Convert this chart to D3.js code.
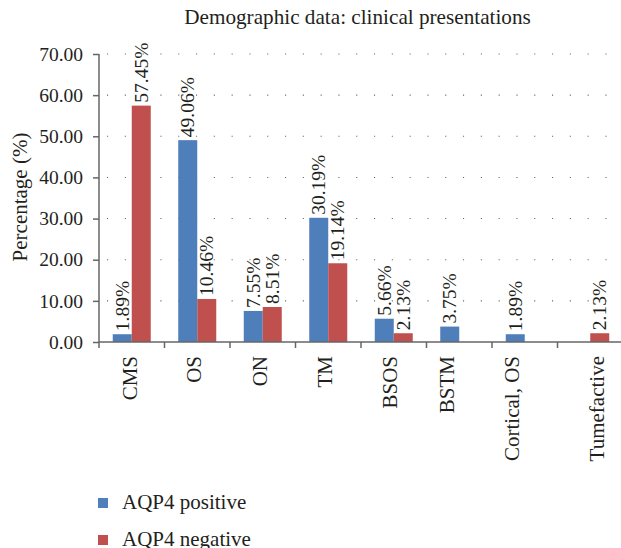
<!DOCTYPE html>
<html>
<head>
<meta charset="utf-8">
<script src="https://cdn.jsdelivr.net/npm/d3@7"></script>
<style>
  body { margin: 0; background: #fff; }
  svg text { font-family: "Liberation Serif", "Times New Roman", serif; fill: #231f20; }
</style>
</head>
<body>
<div id="chart"></div>
<script>
var categories = ["CMS", "OS", "ON", "TM", "BSOS", "BSTM", "Cortical, OS", "Tumefactive"];
var positive = [1.89, 49.06, 7.55, 30.19, 5.66, 3.75, 1.89, null];
var negative = [57.45, 10.46, 8.51, 19.14, 2.13, null, null, 2.13];
var seriesNames = ["AQP4 positive", "AQP4 negative"];
var yTicks = [0, 10, 20, 30, 40, 50, 60, 70];

function init(){
    var w = 621, h = 548;
    var left = 99, top = 54, bottom = 342;
    var bandW = 65.5;
    var colors = ["#4f7fbb", "#bf504e"];
    // small per-label nudges, the source chart does not center every category label
    var catShift = [-2, -3, -3, -3, -4, -12, -13, 7];

    var svg = d3.select("#chart")
                .append("svg")
                .attr("width", w)
                .attr("height", h);

    var yScale = d3.scaleLinear()
                .domain([0, 70])
                .range([bottom, top]);

    var xScale = d3.scaleBand()
                .domain(categories)
                .range([left, left + bandW * categories.length]);

    var inner = d3.scaleBand()
                .domain([0, 1])
                .range([0, 38]);
    var groupOff = (bandW - 38) / 2;

    //title
    svg.append("text")
        .attr("x", 357.5)
        .attr("y", 24)
        .attr("text-anchor", "middle")
        .attr("font-size", "21.2px")
        .text("Demographic data: clinical presentations");

    //dotted gridlines
    svg.selectAll("line.grid")
        .data(yTicks.slice(1))
        .enter()
        .append("line")
        .attr("class", "grid")
        .attr("x1", left + 8)
        .attr("x2", w)
        .attr("y1", function(d){ return yScale(d); })
        .attr("y2", function(d){ return yScale(d); })
        .attr("stroke", "#666")
        .attr("stroke-width", 1.1)
        .attr("stroke-dasharray", "1.1,16.7");

    //y axis
    var yAxis = d3.axisLeft(yScale)
                .tickValues(yTicks)
                .tickSize(6)
                .tickPadding(10)
                .tickFormat(d3.format(".2f"));
    var gy = svg.append("g")
        .attr("transform", "translate(" + left + ",0)")
        .call(yAxis);
    gy.selectAll("text").attr("font-size", "19.5px").attr("font-family", null).attr("fill", "#231f20");
    gy.selectAll("line, path").attr("stroke", "#666").attr("stroke-width", 1.5);
    gy.select(".domain").attr("d", "M0," + top + "V" + bottom);

    svg.append("text")
        .attr("transform", "translate(27," + 197 + ") rotate(-90)")
        .attr("text-anchor", "middle")
        .attr("font-size", "21px")
        .text("Percentage (%)");

    //bars
    var series = [positive, negative];
    series.forEach(function(vals, s){
        var pts = vals.map(function(v, i){ return {c: categories[i], v: v}; })
                      .filter(function(d){ return d.v != null; });
        svg.selectAll("rect.s" + s)
            .data(pts)
            .enter()
            .append("rect")
            .attr("class", "s" + s)
            .attr("x", function(d){ return xScale(d.c) + groupOff + inner(s); })
            .attr("y", function(d){ return yScale(d.v); })
            .attr("width", inner.bandwidth())
            .attr("height", function(d){ return bottom - yScale(d.v); })
            .attr("fill", colors[s]);

        svg.selectAll("text.l" + s)
            .data(pts)
            .enter()
            .append("text")
            .attr("class", "l" + s)
            .attr("transform", function(d){
                var cx = xScale(d.c) + groupOff + inner(s) + inner.bandwidth() / 2;
                return "translate(" + (cx + 6.5) + "," + (yScale(d.v) - 3) + ") rotate(-90)";
            })
            .attr("font-size", "19.5px")
            .text(function(d){ return d.v.toFixed(2) + "%"; });
    });

    //x axis
    var xAxis = d3.axisBottom(xScale).tickSize(0).tickFormat("");
    var gx = svg.append("g")
        .attr("transform", "translate(0," + bottom + ")")
        .call(xAxis);
    gx.select(".domain").attr("d", "M" + left + ",0H" + w).attr("stroke", "#666").attr("stroke-width", 1.5);
    gx.selectAll("line.bt")
        .data(categories)
        .enter()
        .append("line")
        .attr("class", "bt")
        .attr("x1", function(d){ return xScale(d); })
        .attr("x2", function(d){ return xScale(d); })
        .attr("y1", 0)
        .attr("y2", 6)
        .attr("stroke", "#666")
        .attr("stroke-width", 1.5);

    svg.selectAll("text.cat")
        .data(categories)
        .enter()
        .append("text")
        .attr("class", "cat")
        .attr("transform", function(d, i){
            return "translate(" + (xScale(d) + bandW / 2 + catShift[i] + 7) + "," + (bottom + 14) + ") rotate(-90)";
        })
        .attr("text-anchor", "end")
        .attr("font-size", "21px")
        .text(function(d){ return d; });

    //legend
    var leg = svg.selectAll("g.leg")
        .data(seriesNames)
        .enter()
        .append("g")
        .attr("class", "leg")
        .attr("transform", function(d, i){ return "translate(98," + (498 + i * 37) + ")"; });
    leg.append("rect")
        .attr("width", 10)
        .attr("height", 10)
        .attr("fill", function(d, i){ return colors[i]; });
    leg.append("text")
        .attr("x", 24)
        .attr("y", 11)
        .attr("font-size", "21px")
        .text(function(d){ return d; });
}

window.onload = init;
</script>
</body>
</html>
